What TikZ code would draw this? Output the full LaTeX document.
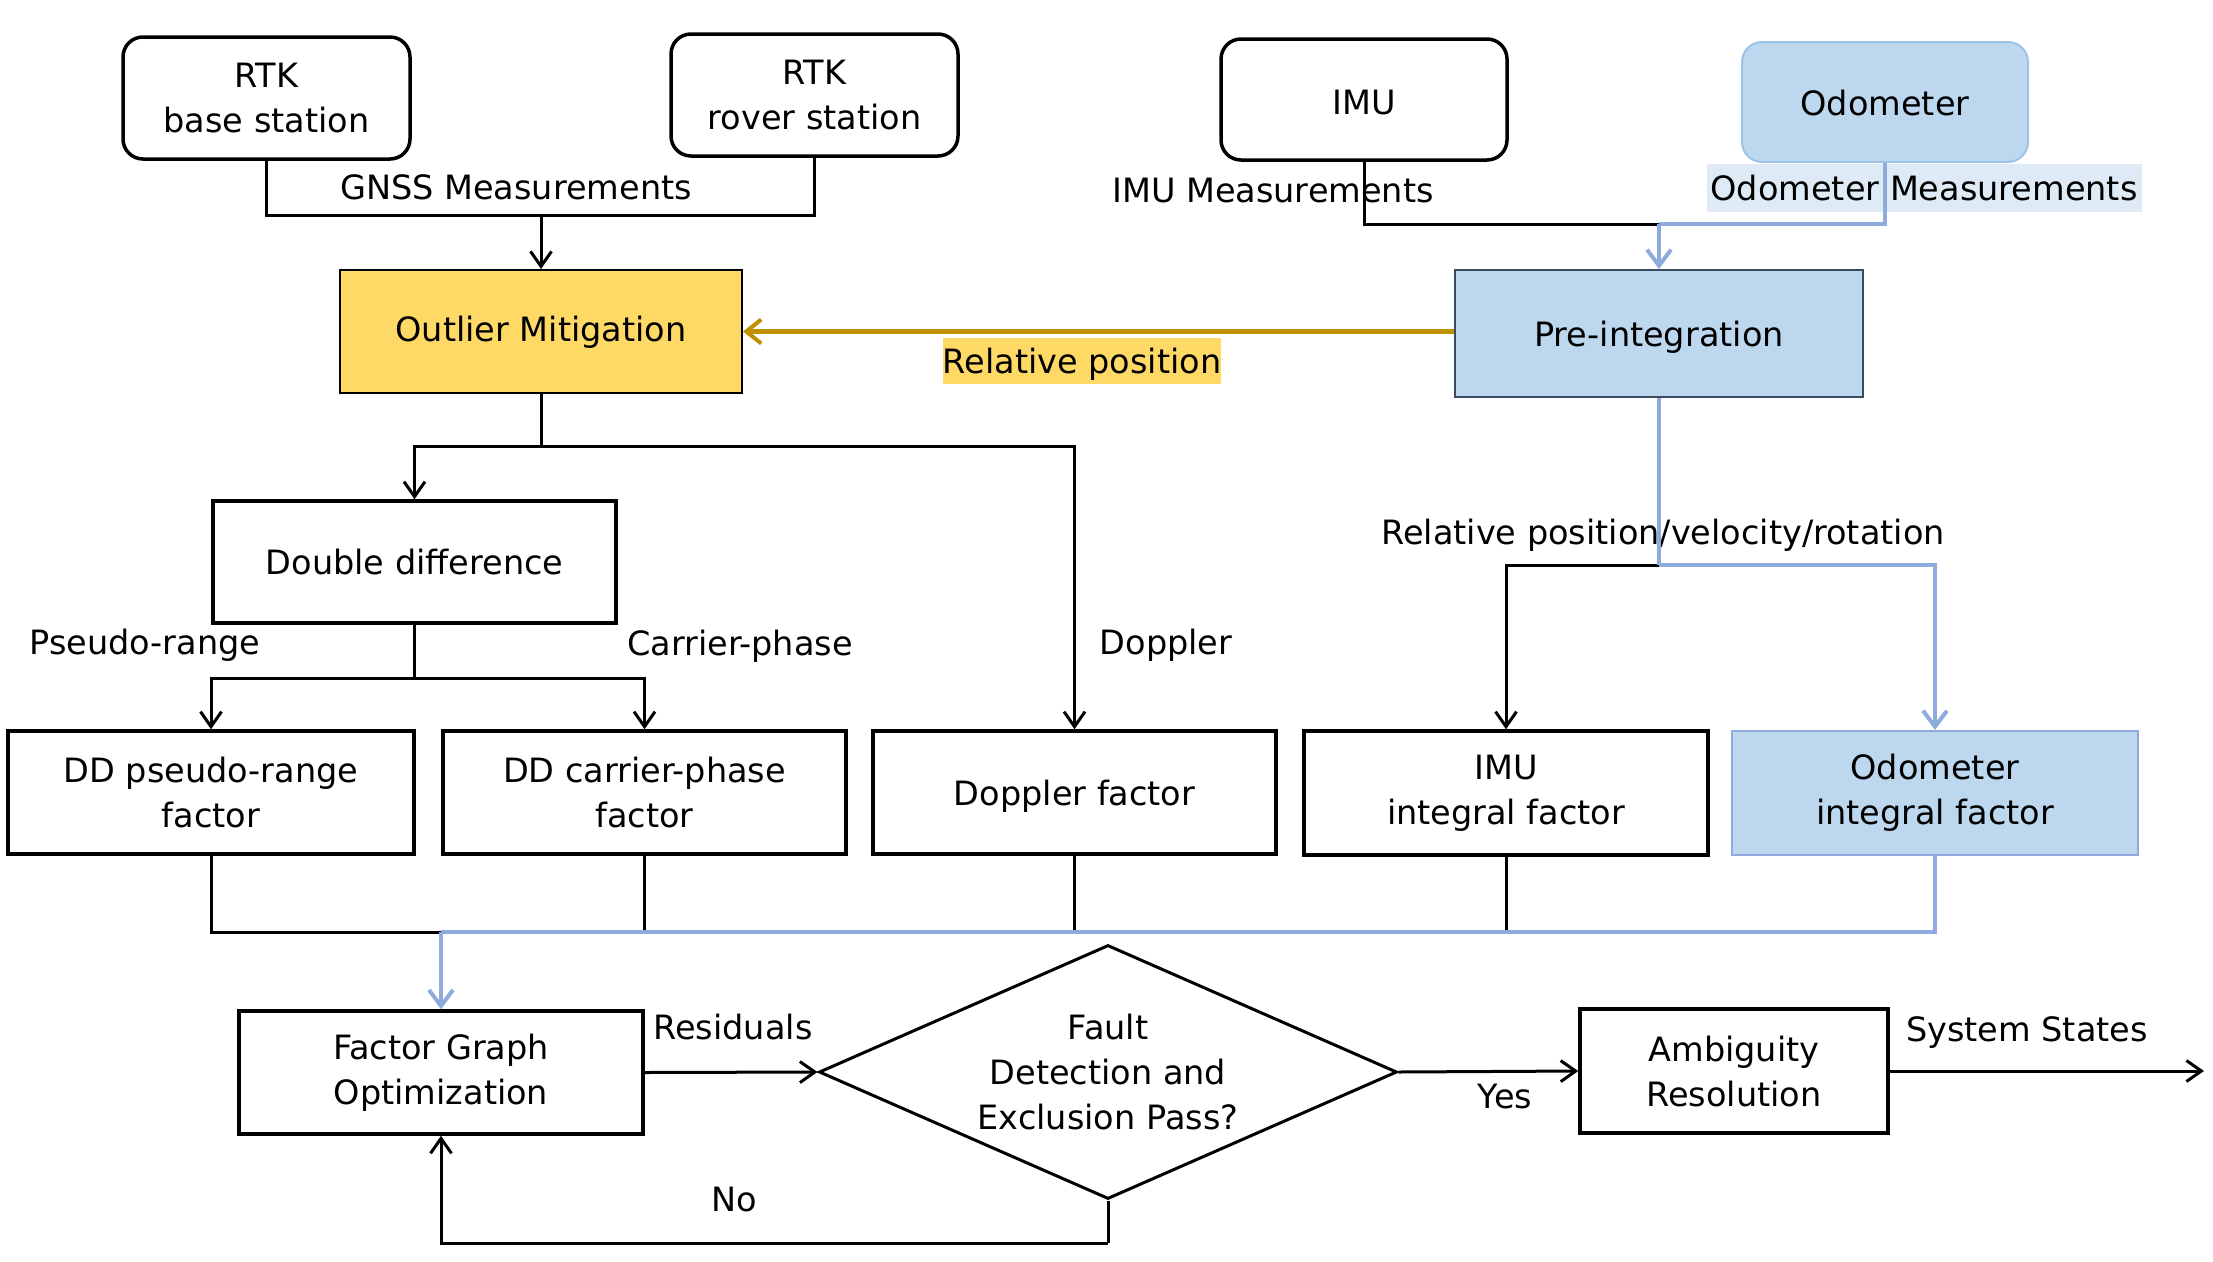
\documentclass[tikz,border=0pt]{standalone}
\usepackage{fontspec}
\setmainfont{DejaVu Sans}
\usetikzlibrary{arrows.meta,shapes.geometric}
\definecolor{goldfill}{HTML}{FFD966}
\definecolor{goldline}{HTML}{BF9000}
\definecolor{bluefill}{HTML}{BDD7EE}
\definecolor{blueline}{HTML}{8FAADC}
\definecolor{bluehl}{HTML}{DEEBF7}
\definecolor{blueedge}{HTML}{9DC3E6}
\definecolor{darkedge}{HTML}{3A4A60}
\newcommand{\lowr}[2]{\raisebox{-#1}[\height][\depth]{#2}}
\begin{document}
\begin{tikzpicture}[x=1pt,y=-1pt,
  every node/.style={font=\fontsize{33.5}{45}\selectfont, inner sep=0pt, align=center},
  box/.style={draw=black, line width=3.5pt, minimum width=#1, minimum height=123pt},
  box/.default=403pt,
  rbox/.style={draw=black, line width=3.5pt, rounded corners=20pt, minimum width=287pt, minimum height=122pt},
  conn/.style={draw=black, line width=3pt},
  bconn/.style={draw=blueline, line width=4.5pt},
  arr/.style={-{Straight Barb[length=15pt,width=21pt,line width=3pt]}},
  barr/.style={-{Straight Barb[length=16pt,width=24pt,line width=4pt]}}
]
\useasboundingbox (0,0) rectangle (2213,1261);
\fill[white] (0,0) rectangle (2213,1261);

% top sources
\node[rbox] (base) at (266.5,98) {RTK\\base station};
\node[rbox] (rover) at (814.5,95) {RTK\\rover station};
\node[rbox, minimum width=286pt, minimum height=121pt] (imu) at (1364,99.5) {\lowr{3pt}{IMU}};
\node[rbox, draw=blueedge, line width=2pt, fill=bluefill, minimum width=286pt, minimum height=120pt] (odo) at (1885,102) {\lowr{1pt}{Odometer}};

% processing boxes
\node[box=402pt, fill=goldfill, line width=2pt] (outlier) at (541,331.5) {\lowr{1pt}{Outlier Mitigation}};
\node[box=408pt, fill=bluefill, draw=darkedge, line width=2pt, minimum height=127pt] (preint) at (1659,333.5) {\lowr{4pt}{Pre-integration}};
\node[box, minimum height=122pt] (dd) at (414.5,562) {Double difference};

% factor row
\node[box=406pt] (ddpr) at (211,792.5) {DD pseudo-range\\factor};
\node[box] (ddcp) at (644.5,792.5) {DD carrier-phase\\factor};
\node[box] (dop) at (1074.5,792.5) {\lowr{4pt}{Doppler factor}};
\node[box=404pt, minimum height=124pt] (imuf) at (1506,793) {IMU\\integral factor};
\node[box=406pt, fill=bluefill, draw=blueline, line width=2pt, minimum height=124pt] (odof) at (1935,793) {Odometer\\integral factor};

% bottom row
\node[box=404pt] (fgo) at (441,1072.5) {Factor Graph\\Optimization};
\node[draw=black, line width=3pt, shape=diamond, aspect=2.276, minimum width=578pt, minimum height=254pt] (fde) at (1108,1072) {Fault\\Detection and\\Exclusion Pass?};
\node[box=308pt, minimum height=124pt] (amb) at (1734,1071) {Ambiguity\\Resolution};

% labels
\node (lgnss) at (516,187) {GNSS Measurements};
\node (limu) at (1273,191) {IMU Measurements};
\node[fill=bluehl, minimum height=48pt, inner xsep=4pt] (lodo) at (1924,188) {Odometer Measurements};
\node[fill=goldfill, minimum height=46pt] (lrel) at (1082,361) {\lowr{3pt}{Relative position}};
\node (lrpvr) at (1663,535) {Relative position/velocity/rotation};
\node (lpr) at (145,645) {Pseudo-range};
\node (lcp) at (740,646) {Carrier-phase};
\node (ldop) at (1166,645) {Doppler};
\node (lres) at (733,1027) {Residuals};
\node (lyes) at (1505,1097) {Yes};
\node (lsys) at (2027,1033) {System States};
\node (lno) at (734,1200) {No};

% junction coordinates
\coordinate (gj) at (541,215);
\coordinate (pj) at (1659,224);
\coordinate (oj) at (541,446);
\coordinate (dj) at (414.5,678);
\coordinate (rj) at (1659,565);
\coordinate (fj) at (441,932);
\coordinate (sysout) at (2204,1071);
\coordinate (noj) at (1108,1243);

% GNSS
\draw[conn] (base.south) |- (gj);
\draw[conn] (rover.south) |- (gj);
\draw[conn,arr] (gj) -- (outlier.north);

% IMU / odometer to pre-integration
\draw[conn] (imu.south) |- (pj);
\draw[bconn] (odo.south) |- (pj);
\draw[bconn,barr] (pj) -- (preint.north);

% relative position
\draw[draw=goldline, line width=4.5pt, -{Straight Barb[length=15pt,width=24pt,line width=4pt]}] (preint.west |- outlier.east) -- (outlier.east);

% outlier to DD and Doppler
\draw[conn] (outlier.south) -- (oj);
\draw[conn,arr] (oj) -| (dd.north);
\draw[conn,arr] (oj) -| (dop.north);

% DD to factors
\draw[conn] (dd.south) -- (dj);
\draw[conn,arr] (dj) -| (ddpr.north);
\draw[conn,arr] (dj) -| (ddcp.north);

% pre-integration to factors
\draw[conn,arr] (rj) -| (imuf.north);
\draw[bconn] (preint.south) -- (rj);
\draw[bconn,barr] (rj) -| (odof.north);

% factors to bus
\draw[conn] (ddpr.south) |- (fj);
\draw[conn] (ddcp.south) -- (ddcp.south |- fj);
\draw[conn] (dop.south) -- (dop.south |- fj);
\draw[conn] (imuf.south) -- (imuf.south |- fj);
\draw[bconn] (odof.south) |- (fj);
\draw[bconn,barr] (fj) -- (fgo.north);

% bottom flow
\draw[conn,arr] (fgo.east) -- (fde.west);
\draw[conn,arr] (fde.east) -- (amb.west);
\draw[conn,arr] (amb.east) -- (sysout);
\draw[conn] (fde.south) -- (noj);
\draw[conn,arr] (noj) -| (fgo.south);
\end{tikzpicture}
\end{document}
